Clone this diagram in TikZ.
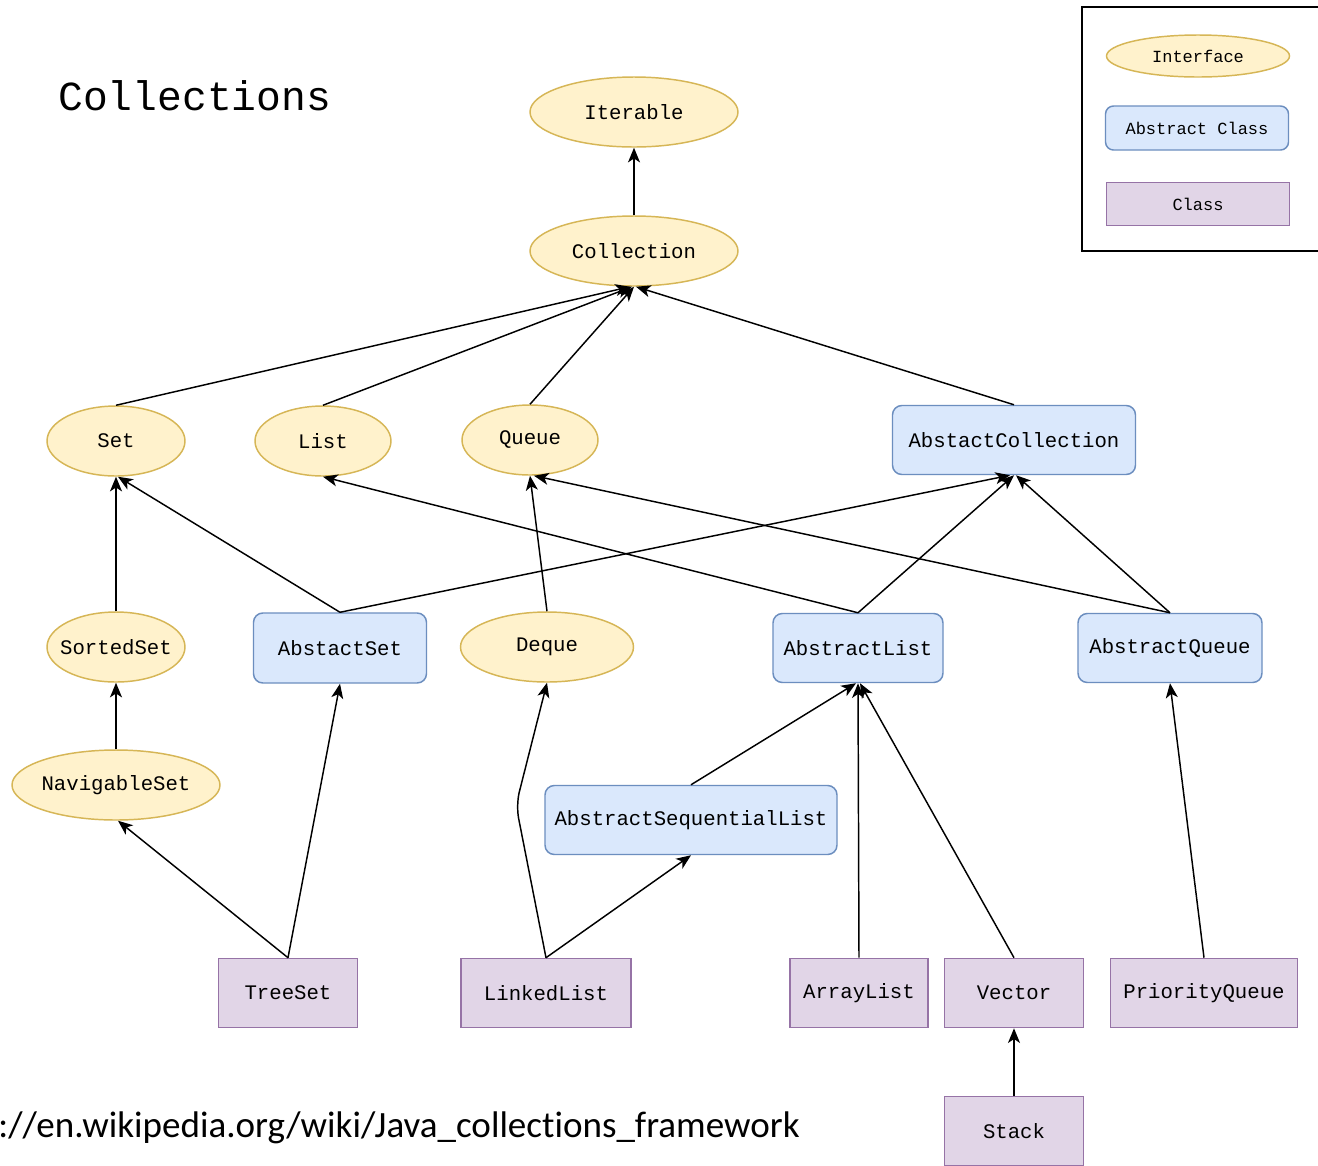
\documentclass[tikz,border=0pt]{standalone}
\usepackage{fontspec}
\setmonofont{Liberation Mono}
\newfontfamily\urlfont[Ligatures=NoCommon]{Carlito}
\usetikzlibrary{shapes.geometric,arrows.meta}
\definecolor{ifill}{HTML}{FFF2CC}
\definecolor{istroke}{HTML}{D6B656}
\definecolor{afill}{HTML}{DAE8FC}
\definecolor{astroke}{HTML}{6C8EBF}
\definecolor{cfill}{HTML}{E1D5E7}
\definecolor{cstroke}{HTML}{9673A6}
\newcommand{\zw}[1]{\makebox[0pt]{#1}}
\tikzset{
  nodefont/.style={font=\ttfamily\fontsize{15.5}{18}\selectfont},
  legfont/.style={font=\ttfamily\fontsize{12.75}{15}\selectfont},
  iface/.style 2 args={ellipse, draw=istroke, fill=ifill, line width=1.1pt, inner sep=0pt,
    minimum width=#1*0.75pt, minimum height=#2*0.75pt, nodefont},
  abox/.style 2 args={rectangle, rounded corners=7pt, draw=astroke, fill=afill, line width=1.1pt, inner sep=0pt,
    minimum width=#1*0.75pt, minimum height=#2*0.75pt, nodefont},
  cbox/.style 2 args={rectangle, draw=cstroke, fill=cfill, line width=1.2pt, inner sep=0pt,
    minimum width=#1*0.75pt, minimum height=#2*0.75pt, nodefont},
  arr/.style={-{Stealth[length=11pt,width=9pt,inset=3pt]}, line width=1.1pt, black},
}
\begin{document}
\begin{tikzpicture}[x=0.75pt,y=-0.75pt]
\useasboundingbox (0,0) rectangle (1318,1165);
\begin{scope}
\clip (0,0) rectangle (1318,1165);
\fill[white] (0,0) rectangle (1318,1165);

% title
\node[anchor=base west, inner sep=0pt, font=\ttfamily\fontsize{31}{34}\selectfont] (title) at (58,110) {Collections};

% legend
\draw[line width=1.1pt] (1082,7) rectangle (1340,251);
\node[iface={183}{42}, legfont] (lgi) at (1198,56) {\zw{Interface}};
\node[abox={183}{44}, legfont, rounded corners=6pt] (lga) at (1197,128) {Abstract Class};
\node[cbox={183}{43}, legfont] (lgc) at (1198,204) {Class};

% nodes
\node[iface={208}{70}] (iter) at (634,112) {\zw{Iterable}};
\node[iface={208}{70}] (coll) at (634,251) {\zw{Collection}};
\node[iface={138}{70}] (set) at (116,441) {\zw{Set}};
\node[iface={136}{70}] (list) at (323,441) {\zw{List}};
\node[iface={136}{70}] (queue) at (530,440) {\zw{Queue}};
\node[abox={243}{69}] (acoll) at (1014,440) {AbstactCollection};
\node[iface={138}{70}] (sset) at (116,647) {\zw{SortedSet}};
\node[abox={173}{70}] (aset) at (340,648) {AbstactSet};
\node[iface={173}{70}] (deque) at (547,647) {\zw{Deque}};
\node[abox={170}{69}] (alist) at (858,648) {AbstractList};
\node[abox={184}{69}] (aqueue) at (1170,648) {AbstractQueue};
\node[iface={208}{70}] (nset) at (116,785) {\zw{NavigableSet}};
\node[abox={292}{69}] (aslist) at (691,820) {AbstractSequentialList};
\node[cbox={139}{69}] (treeset) at (288,993) {TreeSet};
\node[cbox={170}{69}] (llist) at (546,993) {LinkedList};
\node[cbox={138}{69}] (alst) at (859,993) {ArrayList};
\node[cbox={139}{69}] (vector) at (1014,993) {Vector};
\node[cbox={187}{69}] (pqueue) at (1204,993) {PriorityQueue};
\node[cbox={139}{69}] (stack) at (1014,1131) {Stack};
\coordinate (bend) at (516,805);

% edges
\draw[arr] (coll.north) -- (iter.south);
\draw[arr] (set.north) -- ([xshift=-3pt]coll.south);
\draw[arr] (list.north) -- ([xshift=-1.5pt]coll.south);
\draw[arr] (queue.north) -- (coll.south);
\draw[arr] (acoll.north) -- ([xshift=1.5pt]coll.south);
\draw[arr] (sset.north) -- (set.south);
\draw[arr] (aset.north) -- ([xshift=1.5pt]set.south);
\draw[arr] (aset.north) -- ([xshift=-3pt]acoll.south);
\draw[arr] (deque.north) -- (queue.south);
\draw[arr] (alist.north) -- (list.south);
\draw[arr] (alist.north) -- (acoll.south);
\draw[arr] (aqueue.north) -- ([xshift=3pt]queue.south);
\draw[arr] (aqueue.north) -- ([xshift=1.5pt]acoll.south);
\draw[arr] (nset.north) -- (sset.south);
\draw[arr] (aslist.north) -- ([xshift=-1.5pt]alist.south);
\draw[arr] (treeset.north) -- ([xshift=1.5pt]nset.south);
\draw[arr] (treeset.north) -- (aset.south);
\draw[arr, rounded corners=10pt] (llist.north) -- (bend) -- (deque.south);
\draw[arr] (llist.north) -- (aslist.south);
\draw[arr] (alst.north) -- (alist.south);
\draw[arr] (vector.north) -- ([xshift=1.5pt]alist.south);
\draw[arr] (pqueue.north) -- (aqueue.south);
\draw[arr] (stack.north) -- (vector.south);

% source url
\node[anchor=base east, inner sep=0pt, font=\urlfont\fontsize{27.8}{32}\selectfont] (url) at (800,1137) {https://en.wikipedia.org/wiki/Java\_collections\_framework};
\end{scope}
\end{tikzpicture}
\end{document}
